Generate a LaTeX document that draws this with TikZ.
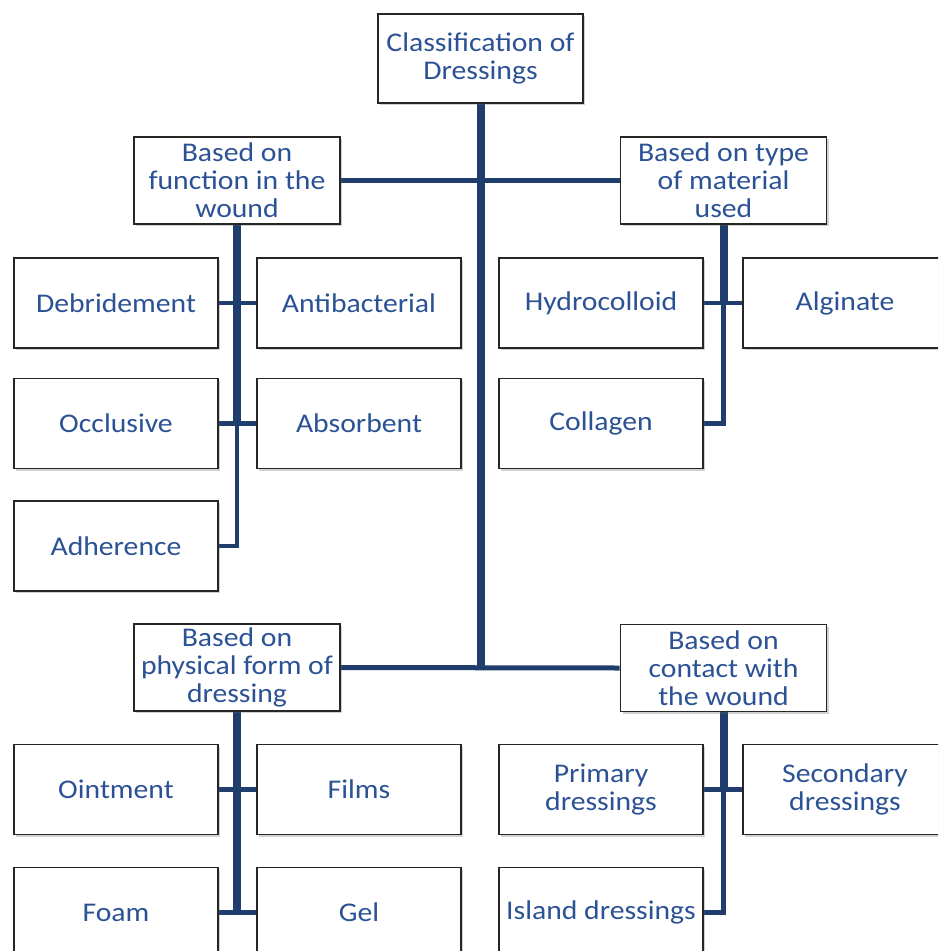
\documentclass[tikz,border=0pt]{standalone}
\usepackage{fontspec}
\setmainfont{Carlito}[FakeStretch=1.1]
\usetikzlibrary{shadows,backgrounds}
\definecolor{linecol}{RGB}{31,62,110}
\definecolor{txtcol}{RGB}{44,82,150}
\tikzset{
  box/.style={draw=black!85, line width=1.6pt, fill=white, align=center,
    text=txtcol, inner sep=2pt,
    font=\fontsize{27}{28}\selectfont,
    drop shadow={shadow xshift=2pt, shadow yshift=-2pt, opacity=0.3, fill=black!60}},
  leaf/.style={box, minimum width=204pt, minimum height=90pt},
  lvl/.style={box, minimum width=206pt, minimum height=87pt},
  thickline/.style={draw=linecol, line width=8pt},
  midline/.style={draw=linecol, line width=5pt},
  thinline/.style={draw=linecol, line width=4.5pt},
}
\begin{document}
\begin{tikzpicture}[x=1pt,y=-1pt]
\useasboundingbox (0,0) rectangle (938,951);
\clip (0,0) rectangle (938,951);
% root and level 1
\node[box, minimum width=205pt, minimum height=89pt] (root) at (480.5,58.5) {Classification of\\Dressings};
\node[lvl] (func) at (237,180.5) {Based on\\function in the\\wound};
\node[lvl] (mat) at (723.5,180.5) {Based on type\\of material\\used};
\node[lvl] (phys) at (237,667.5) {Based on\\physical form of\\dressing};
\node[lvl] (cont) at (723.5,668) {Based on\\contact with\\the wound};
% leaves: function
\node[leaf] (debr) at (116,303) {Debridement};
\node[leaf] (antib) at (359,303) {Antibacterial};
\node[leaf] (occl) at (116,423.5) {Occlusive};
\node[leaf] (absorb) at (359,423.5) {Absorbent};
\node[leaf] (adher) at (116,546) {Adherence};
% leaves: material
\node[leaf] (hydro) at (601,303) {Hydrocolloid};
\node[leaf] (algin) at (845,303) {Alginate};
\node[leaf] (collag) at (601,423.5) {Collagen};
% leaves: physical form
\node[leaf] (oint) at (116,789.5) {Ointment};
\node[leaf] (films) at (359,789.5) {Films};
\node[leaf] (foam) at (116,912.5) {Foam};
\node[leaf] (gel) at (359,912.5) {Gel};
% leaves: contact
\node[leaf] (prim) at (601,789.5) {Primary\\dressings};
\node[leaf] (second) at (845,789.5) {Secondary\\dressings};
\node[leaf] (island) at (601,912.5) {Island dressings};
\begin{pgfonlayer}{background}
  % trunk
  \draw[thickline] (root.south) -- (root.south |- phys.east);
  \draw[midline] (func.east) -- (mat.west);
  \draw[midline] (phys.east) -- (cont.west);
  % function branch
  \draw[thickline] (func.south) -- (func.south |- occl.east);
  \draw[thinline] (func.south |- occl.east) -- (func.south |- adher.east) -- (adher.east);
  \draw[thinline] (debr.east) -- (antib.west);
  \draw[thinline] (occl.east) -- (absorb.west);
  % material branch
  \draw[thickline] (mat.south) -- (mat.south |- hydro.east);
  \draw[thinline] (mat.south |- hydro.east) -- (mat.south |- collag.east) -- (collag.east);
  \draw[thinline] (hydro.east) -- (algin.west);
  % physical branch
  \draw[thickline] (phys.south) -- (phys.south |- foam.east);
  \draw[thinline] (oint.east) -- (films.west);
  \draw[thinline] (foam.east) -- (gel.west);
  % contact branch
  \draw[thickline] (cont.south) -- (cont.south |- prim.east);
  \draw[thinline] (cont.south |- prim.east) -- (cont.south |- island.east) -- (island.east);
  \draw[thinline] (prim.east) -- (second.west);
\end{pgfonlayer}
\end{tikzpicture}
\end{document}
